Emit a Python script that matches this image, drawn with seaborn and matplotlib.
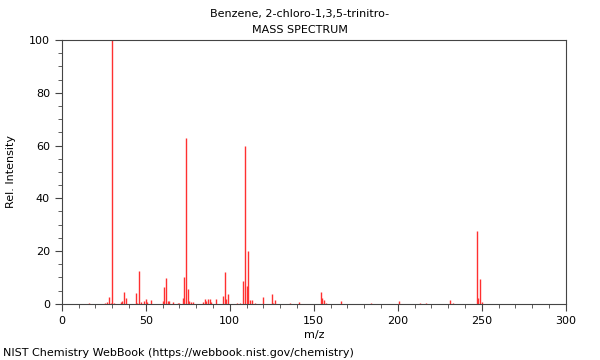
import pandas as pd
import seaborn as sns
import matplotlib.pyplot as plt
from matplotlib.ticker import MultipleLocator

# peaks
mz = [16, 26, 27, 28, 29, 30, 31, 35, 36, 37, 38, 44, 45, 46, 47, 49, 50, 51, 53,
      60, 61, 62, 63, 64, 66, 69, 70, 72, 73, 74, 75, 76, 77, 78, 84, 85, 86, 87,
      88, 89, 92, 96, 97, 98, 99, 104, 106, 108, 109, 110, 111, 112, 113, 115,
      120, 125, 126, 127, 136, 141, 154, 155, 156, 157, 166, 184, 201, 213, 217,
      231, 233, 247, 248, 249, 250]
intensity = [0.5, 0.5, 0.8, 2.5, 0.5, 100, 0.5, 0.8, 1.0, 4.3, 2.3, 4.2, 0.5, 12.4,
             0.6, 1.0, 1.9, 0.8, 1.6, 1.0, 6.5, 9.8, 1.2, 1.0, 0.6, 0.5, 0.4, 2.4,
             10.2, 63, 5.5, 1.0, 0.7, 0.7, 0.8, 1.8, 1.0, 1.9, 1.9, 0.7, 1.7, 3.0,
             12.2, 1.7, 3.8, 0.4, 0.4, 8.6, 60, 6.8, 20, 1.4, 1.4, 0.4, 2.6, 3.8,
             0.4, 1.5, 0.5, 0.6, 4.6, 2.4, 1.5, 0.4, 1.2, 0.2, 0.9, 0.5, 0.5, 1.3,
             0.4, 27.6, 2.1, 9.5, 0.6]

df = pd.DataFrame({'mz': mz, 'intensity': intensity})

sns.set_style('ticks')
plt.rcParams['font.family'] = ['DejaVu Sans']
plt.rcParams['text.color'] = 'black'
plt.rcParams['axes.labelcolor'] = 'black'
plt.rcParams['xtick.color'] = 'black'
plt.rcParams['ytick.color'] = 'black'

fig = plt.figure(figsize=(6, 3.6), dpi=100)
ax = fig.add_axes([0.103, 0.156, 0.84, 0.733])

ax.vlines(df['mz'], 0, df['intensity'], color='#ff3030', linewidth=1.0)

ax.set_xlim(0, 300)
ax.set_ylim(0, 100)
ax.xaxis.set_major_locator(MultipleLocator(50))
ax.xaxis.set_minor_locator(MultipleLocator(10))
ax.yaxis.set_major_locator(MultipleLocator(20))
ax.yaxis.set_minor_locator(MultipleLocator(5))
ax.tick_params(which='major', length=5, width=0.8, labelsize=8, color='#444444')
ax.tick_params(which='minor', length=3, width=0.6, color='#444444')
for s in ax.spines.values():
    s.set_linewidth(0.8)
    s.set_color('#444444')

ax.set_xlabel('m/z', fontsize=8, labelpad=3)
ax.set_ylabel('Rel. Intensity', fontsize=8, labelpad=9)

fig.text(0.5, 0.962, 'Benzene, 2-chloro-1,3,5-trinitro-', ha='center', va='center', fontsize=8)
fig.text(0.5, 0.917, 'MASS SPECTRUM', ha='center', va='center', fontsize=8)
fig.text(0.005, 0.02, 'NIST Chemistry WebBook (https://webbook.nist.gov/chemistry)',
         ha='left', va='center', fontsize=8)

fig.savefig('out.png', dpi=100)
